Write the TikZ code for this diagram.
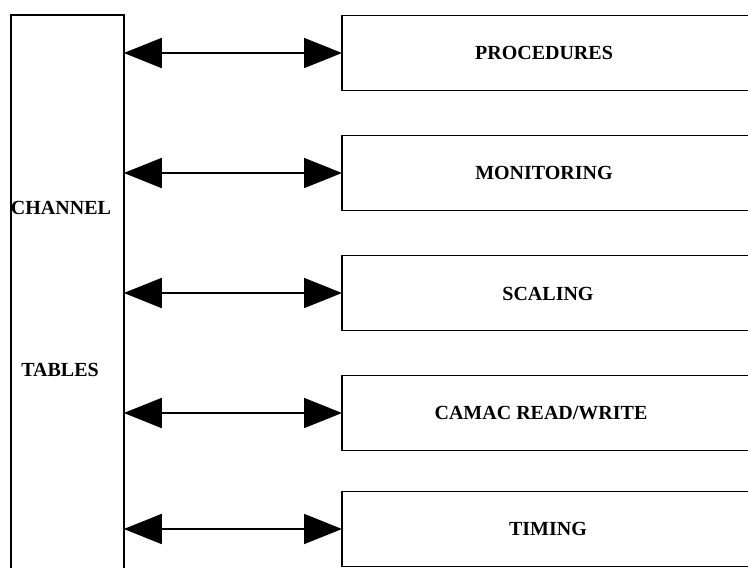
\documentclass[tikz,border=0pt]{standalone}
\usepackage{fontspec}
\setmainfont{Liberation Serif}
\usetikzlibrary{arrows.meta}
\begin{document}
\begin{tikzpicture}[x=1pt,y=-1pt,
  box/.style={draw=black,line width=1.8pt,minimum width=409pt,minimum height=75pt,inner sep=0pt},
  lbl/.style={font=\fontsize{20}{22}\selectfont\bfseries,inner sep=0pt},
  link/.style={line width=1.8pt,shorten <=-1pt,shorten >=-1pt,{Triangle[length=38pt,width=30pt]}-{Triangle[length=38pt,width=30pt]}}]
\useasboundingbox (0,0) rectangle (748,568);
\clip (0,0) rectangle (748,568);
\node[draw=black,line width=1.8pt,minimum width=113pt,minimum height=570pt,inner sep=0pt,anchor=north west] (chan) at (10,14) {};
\node[lbl] (t1) at (61,208) {CHANNEL};
\node[lbl] (t2) at (60,370) {TABLES};
\node[box,anchor=west] (b1) at (341,53) {};
\node[box,anchor=west] (b2) at (341,173) {};
\node[box,anchor=west] (b3) at (341,293) {};
\node[box,anchor=west] (b4) at (341,413) {};
\node[box,anchor=west] (b5) at (341,529) {};
\node[lbl] at (544,53) {PROCEDURES};
\node[lbl] at (544,173) {MONITORING};
\node[lbl] at (548,294) {SCALING};
\node[lbl] at (541,413) {CAMAC READ/WRITE};
\node[lbl] at (548,529) {TIMING};
\foreach \b in {b1,b2,b3,b4,b5}
  \draw[link] (chan.east |- \b.west) -- (\b.west);
\end{tikzpicture}
\end{document}
